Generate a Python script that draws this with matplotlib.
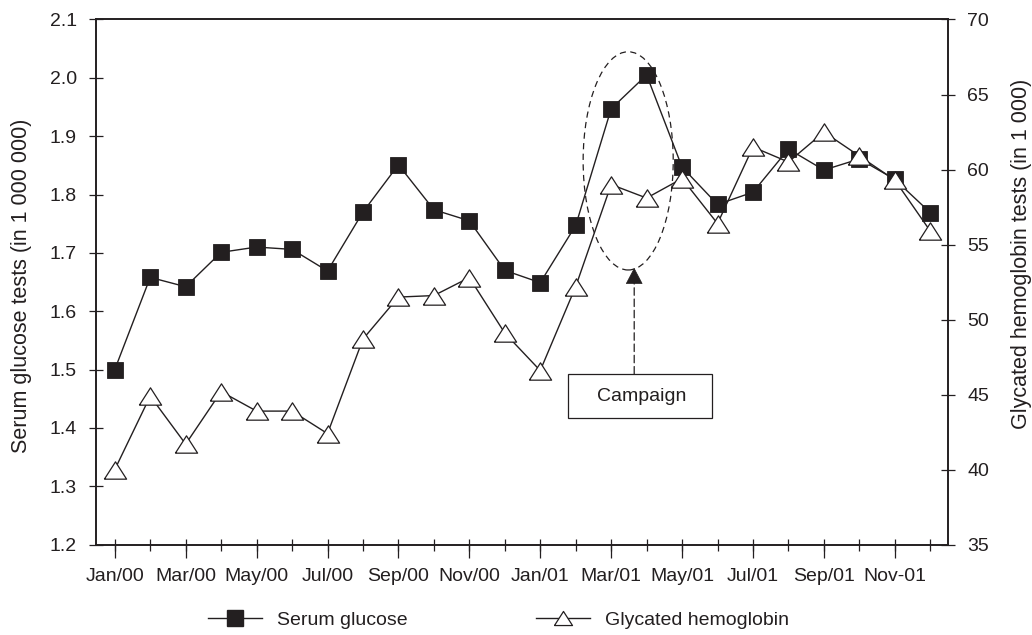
import matplotlib
matplotlib.use("Agg")
import matplotlib.pyplot as plt
import numpy as np
from matplotlib.patches import Ellipse, Rectangle
from matplotlib.lines import Line2D
from matplotlib.ticker import FixedLocator, FormatStrFormatter

plt.rcParams['font.family'] = ['Liberation Sans', 'DejaVu Sans']

months = ['Jan/00', 'Feb/00', 'Mar/00', 'Apr/00', 'May/00', 'Jun/00',
          'Jul/00', 'Aug/00', 'Sep/00', 'Oct/00', 'Nov/00', 'Dec/00',
          'Jan/01', 'Feb/01', 'Mar/01', 'Apr/01', 'May/01', 'Jun/01',
          'Jul/01', 'Aug/01', 'Sep/01', 'Oct/01', 'Nov-01', 'Dec/01']
tick_labels = ['Jan/00', 'Mar/00', 'May/00', 'Jul/00', 'Sep/00', 'Nov/00',
               'Jan/01', 'Mar/01', 'May/01', 'Jul/01', 'Sep/01', 'Nov-01']

serum_glucose = [1.500, 1.658, 1.642, 1.701, 1.710, 1.706, 1.669, 1.770,
                 1.851, 1.774, 1.755, 1.670, 1.649, 1.747, 1.947, 2.005,
                 1.847, 1.783, 1.804, 1.878, 1.842, 1.861, 1.826, 1.769]
glycated_hb = [40.0, 44.9, 41.7, 45.2, 43.9, 43.9, 42.4, 48.7,
               51.5, 51.6, 52.8, 49.1, 46.6, 52.2, 59.0, 58.1,
               59.4, 56.4, 61.5, 60.5, 62.5, 60.9, 59.3, 55.9]

left_ticks = [1.2, 1.3, 1.4, 1.5, 1.6, 1.7, 1.8, 1.9, 2.0, 2.1]
right_ticks = [35, 40, 45, 50, 55, 60, 65, 70]

ink = '#231f20'
fs = 14
fs_lab = 15.5

fig = plt.figure(figsize=(10.32, 6.35), dpi=100)
ax = fig.add_axes([0.093, 0.1423, 0.8256, 0.8270])
ax2 = ax.twinx()

x = np.arange(len(months))
tri = [(-1, -0.78), (1, -0.78), (0, 0.78), (-1, -0.78)]

ax.plot(x, serum_glucose, color=ink, lw=1.0, marker='s', ms=11.3,
        mfc=ink, mec=ink, mew=0.6, zorder=3)
ax2.plot(x, glycated_hb, color=ink, lw=1.0, marker=tri, ms=16,
         mfc='white', mec=ink, mew=0.9, zorder=3)

ax.set_xlim(-0.53, 23.5)
ax.set_ylim(1.2, 2.1)
ax2.set_ylim(35, 70)

# ticks
ax.set_yticks(left_ticks)
ax.yaxis.set_major_formatter(FormatStrFormatter('%.1f'))
ax2.set_yticks(right_ticks)
ax.tick_params(axis='y', direction='inout', length=10.5, width=0.9,
               colors=ink, labelsize=fs, pad=8.5)
ax2.tick_params(axis='y', direction='inout', length=10.5, width=0.9,
                colors=ink, labelsize=fs, pad=8.5)

major_pos = [months.index(t) for t in tick_labels]
ax.xaxis.set_major_locator(FixedLocator(major_pos))
ax.set_xticklabels(tick_labels)
ax.xaxis.set_minor_locator(FixedLocator(list(x)))
ax.xaxis.remove_overlapping_locs = False
ax.tick_params(axis='x', which='major', direction='out', length=9,
               width=0.9, colors=ink, labelsize=fs, pad=8)
ax.tick_params(axis='x', which='minor', direction='inout', length=8,
               width=0.9, colors=ink)

for a in (ax, ax2):
    for s in a.spines.values():
        s.set_linewidth(1.2)
        s.set_color(ink)

ax.set_ylabel('Serum glucose tests (in 1 000 000)', fontsize=fs_lab,
              color=ink)
ax.yaxis.set_label_coords(-0.075, 0.492)
ax2.set_ylabel('Glycated hemoglobin tests (in 1 000)', fontsize=fs_lab,
               color=ink, rotation=90)
ax2.yaxis.set_label_coords(1.0745, 0.553)

# campaign annotation
ell = Ellipse((14.48, 1.8577), width=2.54, height=0.374, fill=False,
              ec=ink, lw=0.9, ls=(0, (5, 3.5)), transform=ax.transData,
              zorder=5)
ax2.add_patch(ell)
box = Rectangle((12.78, 1.417), 16.85 - 12.78, 1.4924 - 1.417, fill=True,
                fc='white', ec=ink, lw=0.9, transform=ax.transData, zorder=5)
ax2.add_patch(box)
ax2.text(14.86, 1.4547, 'Campaign', transform=ax.transData, ha='center',
         va='center', fontsize=fs, color=ink, zorder=6)
ax2.annotate('', xy=(14.65, 1.6565), xycoords=ax.transData,
             xytext=(14.65, 1.4924), textcoords=ax.transData,
             arrowprops=dict(arrowstyle='-', ls=(0, (6, 3)), lw=0.9,
                             color=ink, shrinkA=0, shrinkB=0), zorder=6)
ax2.annotate('', xy=(14.65, 1.6745), xycoords=ax.transData,
             xytext=(14.65, 1.655), textcoords=ax.transData,
             arrowprops=dict(arrowstyle='-|>,head_length=0.4,head_width=0.21',
                             mutation_scale=27, lw=0.5, color=ink,
                             shrinkA=0, shrinkB=0), zorder=6)

# legend
handles = [Line2D([], [], color=ink, lw=1.0, marker='s', ms=11.3, mfc=ink,
                  mec=ink),
           Line2D([], [], color=ink, lw=1.0, marker=tri, ms=13, mfc='white',
                  mec=ink, mew=0.9)]
fig.legend(handles, ['Serum glucose', 'Glycated hemoglobin'], loc='center',
           bbox_to_anchor=(0.4835, 0.024), ncol=2, frameon=False,
           fontsize=fs, handlelength=2.75, handletextpad=0.8,
           columnspacing=6.6, labelcolor=ink)

fig.savefig('out.png', dpi=100)
